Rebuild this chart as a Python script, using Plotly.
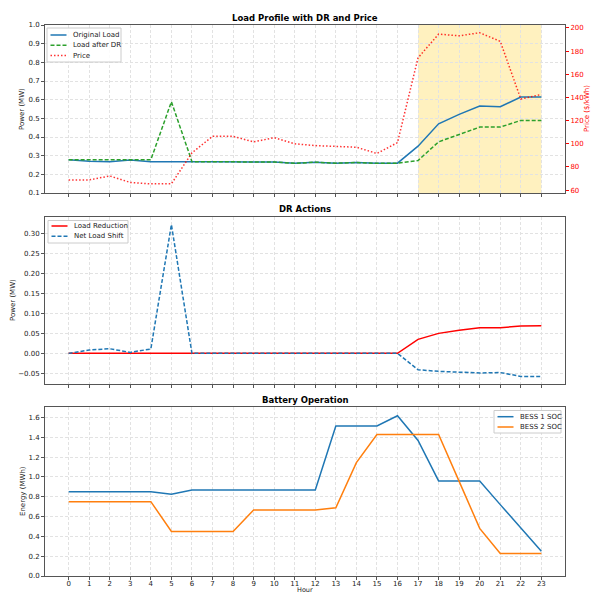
import plotly.graph_objects as go

hours = list(range(24))
original_load = [0.278, 0.270, 0.268, 0.277, 0.268, 0.270, 0.268, 0.268, 0.265, 0.266,
                 0.266, 0.259, 0.265, 0.260, 0.263, 0.259, 0.260, 0.351, 0.471, 0.521,
                 0.566, 0.562, 0.614, 0.614]
load_after_dr = [0.278, 0.278, 0.279, 0.279, 0.278, 0.589, 0.268, 0.268, 0.265, 0.266,
                 0.266, 0.259, 0.265, 0.260, 0.263, 0.259, 0.260, 0.274, 0.374, 0.414,
                 0.453, 0.453, 0.489, 0.489]
price = [68.8, 68.8, 72.2, 66.6, 65.4, 65.4, 92.2, 106.4, 106.4, 101.6, 105.3, 100.0,
         98.4, 97.8, 97.0, 91.6, 101.0, 174.2, 194.6, 193.2, 195.8, 188.4, 138.6, 142.6]
load_reduction = [0, 0, 0, 0, 0, 0, 0, 0, 0, 0, 0, 0, 0, 0, 0, 0, 0,
                  0.035, 0.050, 0.058, 0.064, 0.064, 0.0685, 0.069]
net_load_shift = [0, 0.0084, 0.0115, 0.0025, 0.011, 0.322, 0, 0, 0, 0, 0, 0, 0, 0, 0, 0, 0,
                  -0.041, -0.045, -0.047, -0.049, -0.048, -0.0576, -0.0576]
bess1_soc = [0.851, 0.851, 0.851, 0.851, 0.851, 0.824, 0.868, 0.868, 0.868, 0.868, 0.868,
             0.868, 0.868, 1.513, 1.513, 1.513, 1.617, 1.367, 0.959, 0.959, 0.959, 0.72,
             0.49, 0.25]
bess2_soc = [0.75, 0.75, 0.75, 0.75, 0.75, 0.45, 0.45, 0.45, 0.45, 0.665, 0.665, 0.665,
             0.665, 0.689, 1.144, 1.428, 1.428, 1.428, 1.428, 0.955, 0.48, 0.227, 0.227,
             0.227]
dr_window = [17, 23]

W, H = 592, 594
FONT = "DejaVu Sans"
TXT = "#222222"

BLUE = "#1f77b4"
GREEN = "#2ca02c"
ORANGE = "#ff7f0e"
PRICE_RED = "rgba(255,0,0,0.8)"
DASH = "4px,2px"
DOT = "1.5px,2px"


def py(pix):
    return 1 - pix / H


def px(pix):
    return pix / W


xdom = [px(45), px(565)]
d1 = [py(193), py(25)]
d2 = [py(384), py(217)]
d3 = [py(576), py(407)]

fig = go.Figure()

fig.add_trace(go.Scatter(x=hours, y=original_load, mode="lines", name="Original Load",
                         line=dict(color=BLUE, width=1.5), xaxis="x", yaxis="y"))
fig.add_trace(go.Scatter(x=hours, y=load_after_dr, mode="lines", name="Load after DR",
                         line=dict(color=GREEN, width=1.5, dash=DASH), xaxis="x", yaxis="y"))
fig.add_trace(go.Scatter(x=hours, y=price, mode="lines", name="Price",
                         line=dict(color=PRICE_RED, width=1.5, dash=DOT),
                         xaxis="x", yaxis="y4"))
fig.add_trace(go.Scatter(x=hours, y=load_reduction, mode="lines", name="Load Reduction",
                         line=dict(color="red", width=1.5), xaxis="x2", yaxis="y2"))
fig.add_trace(go.Scatter(x=hours, y=net_load_shift, mode="lines", name="Net Load Shift",
                         line=dict(color=BLUE, width=1.5, dash=DASH), xaxis="x2", yaxis="y2"))
fig.add_trace(go.Scatter(x=hours, y=bess1_soc, mode="lines", name="BESS 1 SOC",
                         line=dict(color=BLUE, width=1.5), xaxis="x3", yaxis="y3"))
fig.add_trace(go.Scatter(x=hours, y=bess2_soc, mode="lines", name="BESS 2 SOC",
                         line=dict(color=ORANGE, width=1.5), xaxis="x3", yaxis="y3"))

fig.add_shape(type="rect", xref="x", yref="y domain", x0=dr_window[0], x1=dr_window[1],
              y0=0, y1=1, fillcolor="#fff1bf", line=dict(width=0), layer="below")

grid = dict(showgrid=True, gridcolor="#e2e2e2", griddash="3px,2px", gridwidth=0.7)
axline = dict(showline=True, linecolor="#555555", linewidth=1, mirror=True,
              ticks="outside", ticklen=3, tickcolor="#555555", zeroline=False,
              automargin=False, tickfont=dict(family=FONT, size=7, color=TXT))

xcommon = dict(range=[-1.15, 24.15], tickmode="array", tickvals=hours,
               ticktext=[str(h) for h in hours], domain=xdom, **grid, **axline)

fig.update_layout(
    width=W, height=H,
    margin=dict(l=0, r=0, t=0, b=0, autoexpand=False),
    paper_bgcolor="white", plot_bgcolor="white",
    font=dict(family=FONT, size=7, color=TXT),
    showlegend=False,
    xaxis=dict(anchor="y", showticklabels=False, **xcommon),
    xaxis2=dict(anchor="y2", showticklabels=False, **xcommon),
    xaxis3=dict(anchor="y3", showticklabels=True, ticklabelstandoff=-2, **xcommon),
    yaxis=dict(domain=d1, anchor="x", range=[0.1, 1.0],
               tickvals=[0.1 * i for i in range(1, 11)], tickformat=".1f", **grid, **axline),
    yaxis4=dict(overlaying="y", side="right", anchor="x", range=[57.5, 202.5],
                tickvals=list(range(60, 201, 20)), showgrid=False, showline=True,
                linecolor="#555555", linewidth=1, ticks="outside", ticklen=3,
                tickcolor="red", zeroline=False, automargin=False,
                tickfont=dict(family=FONT, size=7, color="red")),
    yaxis2=dict(domain=d2, anchor="x2", range=[-0.0766, 0.341],
                tickvals=[-0.05, 0, 0.05, 0.10, 0.15, 0.20, 0.25, 0.30], tickformat=".2f",
                **grid, **axline),
    yaxis3=dict(domain=d3, anchor="x3", range=[0, 1.705],
                tickvals=[0.2 * i for i in range(9)], tickformat=".1f", **grid, **axline),
)


def draw_legend(box, entries):
    x0, y0, x1, y1 = box
    fig.add_shape(type="rect", xref="paper", yref="paper", x0=px(x0), x1=px(x1),
                  y0=py(y1), y1=py(y0), fillcolor="rgba(255,255,255,0.85)",
                  line=dict(color="#cccccc", width=1), layer="above")
    for label, color, dash, ly in entries:
        fig.add_shape(type="line", xref="paper", yref="paper", x0=px(x0 + 3.5),
                      x1=px(x0 + 19.5), y0=py(ly), y1=py(ly),
                      line=dict(color=color, width=1.5, dash=dash), layer="above")
        fig.add_annotation(text=label, xref="paper", yref="paper", x=px(x0 + 23.5),
                           y=py(ly), xanchor="left", yanchor="middle", showarrow=False,
                           font=dict(family=FONT, size=7, color=TXT))


draw_legend((47, 28, 121, 62), [("Original Load", BLUE, "solid", 35),
                                ("Load after DR", GREEN, DASH, 45.3),
                                ("Price", PRICE_RED, DOT, 55.6)])
draw_legend((48, 220.5, 128, 243), [("Load Reduction", "red", "solid", 226),
                                    ("Net Load Shift", BLUE, DASH, 236.3)])
draw_legend((494, 410.5, 561, 433), [("BESS 1 SOC", BLUE, "solid", 416.7),
                                     ("BESS 2 SOC", ORANGE, "solid", 427)])

titles = [("Load Profile with DR and Price", 18), ("DR Actions", 209),
          ("Battery Operation", 400)]
for text, ypix in titles:
    fig.add_annotation(text="<b>" + text + "</b>", xref="paper", yref="paper",
                       x=px(305), y=py(ypix), xanchor="center", yanchor="middle",
                       showarrow=False, font=dict(family=FONT, size=8.5, color="black"))

ylabels = [("Power (MW)", 22, 109, TXT), ("Power (MW)", 13, 300, TXT),
           ("Energy (MWh)", 23, 491, TXT), ("Price ($/kWh)", 587, 109, "red")]
for text, xp, yp, col in ylabels:
    fig.add_annotation(text=text, xref="paper", yref="paper", x=px(xp), y=py(yp),
                       xanchor="center", yanchor="middle", textangle=-90, showarrow=False,
                       font=dict(family=FONT, size=7, color=col))

fig.add_annotation(text="Hour", xref="paper", yref="paper", x=px(305), y=0,
                   xanchor="center", yanchor="bottom", showarrow=False, borderpad=0,
                   height=7, valign="middle",
                   font=dict(family=FONT, size=6.5, color=TXT))

fig.write_html("out.html",
               config={"displayModeBar": False},
               post_script="document.body.style.margin='0px';"
                           "document.body.style.overflow='hidden';")
